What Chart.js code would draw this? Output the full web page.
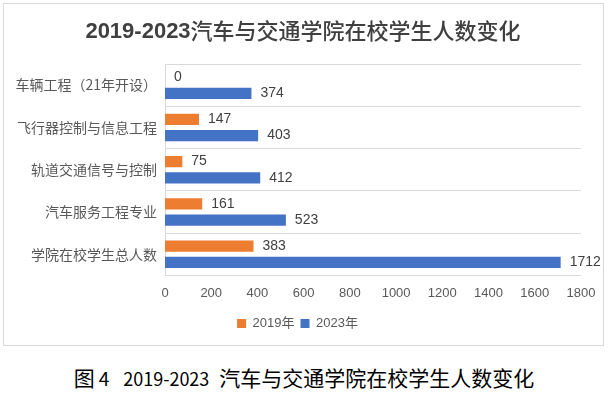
<!DOCTYPE html>
<html>
<head>
<meta charset="utf-8">
<script src="https://cdn.jsdelivr.net/npm/chart.js@4/dist/chart.umd.min.js"></script>
<style>
html,body{margin:0;padding:0;background:#fff;width:608px;height:393px;overflow:hidden;}
#wrap{position:absolute;left:0;top:0;width:608px;height:350px;}
#cap{position:absolute;left:0;top:365px;width:608px;text-align:center;font-family:"Noto Sans CJK SC",sans-serif;font-size:21px;line-height:24px;color:#000;white-space:nowrap;}
#cap .n{font-size:19px;margin-left:4px;}
#cap .y{font-size:18px;margin-left:14px;margin-right:10px;}
</style>
</head>
<body>
<div id="wrap"><canvas id="c" width="608" height="350"></canvas></div>
<div id="cap">图<span class="n">4</span><span class="y">2019-2023</span>汽车与交通学院在校学生人数变化</div>
<script>
const categories = ["车辆工程（21年开设）","飞行器控制与信息工程","轨道交通信号与控制","汽车服务工程专业","学院在校学生总人数"];
const values2019 = [0,147,75,161,383];
const values2023 = [374,403,412,523,1712];
const seriesNames = ["2019年","2023年"];
const xTicks = [0,200,400,600,800,1000,1200,1400,1600,1800];
const titleYears = "2019-2023";
const titleText = "汽车与交通学院在校学生人数变化";

const frame = {
  id:'frame',
  beforeDraw(chart){
    const ctx = chart.ctx;
    ctx.save();
    ctx.fillStyle='#fff';
    ctx.fillRect(0,0,chart.width,chart.height);
    ctx.strokeStyle='#d9d9d9';
    ctx.lineWidth=1;
    ctx.strokeRect(3.5,3.5,600,342);
    ctx.restore();
  },
  afterDraw(chart){
    const ctx = chart.ctx;
    ctx.save();
    const f1 = 'bold 22px "Liberation Sans", sans-serif';
    const f2 = '500 22px "Noto Sans CJK SC", sans-serif';
    ctx.font = f1; const w1 = ctx.measureText(titleYears).width;
    ctx.font = f2; const w2 = ctx.measureText(titleText).width;
    let x = 303 - (w1+w2)/2;
    ctx.fillStyle = '#404040';
    ctx.textBaseline = 'middle';
    ctx.textAlign = 'left';
    ctx.font = f1; ctx.fillText(titleYears, x, 32);
    ctx.font = f2; ctx.fillText(titleText, x + w1, 31);
    ctx.restore();
  }
};
const labels = {
  id:'vlabels',
  afterDatasetsDraw(chart){
    const ctx = chart.ctx;
    ctx.save();
    ctx.font = '14px "Liberation Sans", sans-serif';
    ctx.fillStyle = '#404040';
    ctx.textAlign = 'left';
    ctx.textBaseline = 'middle';
    chart.data.datasets.forEach((ds,i)=>{
      const meta = chart.getDatasetMeta(i);
      meta.data.forEach((bar,j)=>{
        ctx.fillText(String(ds.data[j]), bar.x + 9, bar.y);
      });
    });
    ctx.restore();
  }
};

new Chart(document.getElementById('c'), {
  type:'bar',
  data:{
    labels:categories,
    datasets:[
      {label:seriesNames[0], data:values2019, backgroundColor:'#ED7D31', categoryPercentage:0.77, barPercentage:0.69},
      {label:seriesNames[1], data:values2023, backgroundColor:'#4472C4', categoryPercentage:0.77, barPercentage:0.69}
    ]
  },
  options:{
    indexAxis:'y',
    responsive:false,
    animation:false,
    layout:{padding:{left:14,right:27,top:64,bottom:10}},
    scales:{
      x:{
        min:0,max:1800,
        afterBuildTicks(scale){ scale.ticks = xTicks.map(v=>({value:v})); },
        grid:{display:false,drawTicks:false},
        border:{display:false},
        ticks:{padding:10,color:'#595959',font:{size:13,family:'"Liberation Sans", sans-serif'},maxRotation:0,autoSkip:false,
          callback:(v)=>String(v)}
      },
      y:{
        afterFit(scale){ scale.width = 151; },
        grid:{color:'#d9d9d9',drawTicks:false,offset:true},
        border:{color:'#d9d9d9'},
        ticks:{padding:8,color:'#595959',font:{size:14,family:'"Noto Sans CJK SC", sans-serif'}}
      }
    },
    plugins:{
      title:{display:false},
      legend:{position:'bottom',labels:{boxWidth:9,boxHeight:9,color:'#595959',font:{size:13,family:'"Liberation Sans","Noto Sans CJK SC", sans-serif'},padding:6}},
      tooltip:{enabled:false}
    }
  },
  plugins:[frame,labels]
});
</script>
</body>
</html>
